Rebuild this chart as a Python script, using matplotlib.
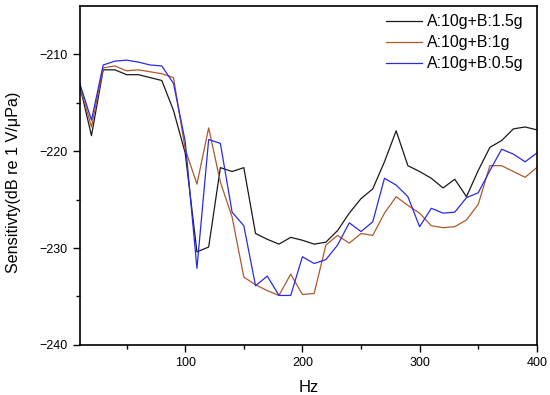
import matplotlib.pyplot as plt
import numpy as np
from matplotlib.ticker import MultipleLocator

plt.rcParams['font.family'] = ['Liberation Sans', 'DejaVu Sans']

# frequency axis (Hz)
freq = np.arange(10, 401, 10)

# sensitivity readings, dB re 1 V/uPa
sens_15 = [-213.2, -218.4, -211.6, -211.6, -212.1, -212.1, -212.4, -212.7, -215.8, -220.2,
           -230.4, -229.9, -221.7, -222.1, -221.7, -228.5, -229.1, -229.6, -228.9, -229.2,
           -229.6, -229.4, -228.2, -226.4, -224.9, -223.9, -221.1, -217.9, -221.5, -222.1,
           -222.8, -223.8, -222.9, -224.7, -222.0, -219.6, -218.9, -217.7, -217.5, -217.8]
sens_10 = [-213.2, -217.5, -211.4, -211.2, -211.7, -211.6, -211.8, -212.0, -212.4, -219.8,
           -223.4, -217.6, -223.2, -226.8, -233.0, -233.8, -234.4, -234.9, -232.7, -234.8,
           -234.7, -229.7, -228.7, -229.5, -228.5, -228.7, -226.4, -224.7, -225.6, -226.4,
           -227.7, -227.9, -227.8, -227.1, -225.5, -221.5, -221.5, -222.1, -222.7, -221.7]
sens_05 = [-213.0, -216.8, -211.1, -210.7, -210.6, -210.8, -211.1, -211.2, -213.0, -219.0,
           -232.1, -218.8, -219.2, -226.3, -227.7, -233.9, -232.9, -234.9, -234.9, -230.9,
           -231.6, -231.2, -229.7, -227.4, -228.3, -227.3, -222.8, -223.5, -224.7, -227.8,
           -225.9, -226.4, -226.3, -224.8, -224.3, -222.0, -219.8, -220.3, -221.1, -220.2]

labels = ['A:10g+B:1.5g', 'A:10g+B:1g', 'A:10g+B:0.5g']
colors = ['#1a1a1a', '#b0582a', '#2a2ae6']

fig = plt.figure(figsize=(5.5, 3.95), dpi=100)
ax = fig.add_axes([0.145, 0.127, 0.831, 0.858])

for y, lab, c in zip([sens_15, sens_10, sens_05], labels, colors):
    ax.plot(freq, y, color=c, linewidth=0.9, label=lab)

ax.set_xlim(10, 400)
ax.set_ylim(-240, -205)
ax.xaxis.set_major_locator(MultipleLocator(100))
ax.xaxis.set_minor_locator(MultipleLocator(50))
ax.yaxis.set_major_locator(MultipleLocator(10))
ax.yaxis.set_minor_locator(MultipleLocator(5))
ax.tick_params(which='major', direction='out', length=5, width=1, labelsize=9)
ax.tick_params(which='minor', direction='out', length=3, width=1)
# no tick on the top edge
ax.yaxis.get_minor_ticks()[-1].tick1line.set_visible(False)
for s in ax.spines.values():
    s.set_linewidth(1.2)

ax.set_xlabel('Hz', fontsize=12, labelpad=8)
ax.set_ylabel('Sensitivty(dB re 1 V/\u03bcPa)', fontsize=11.6)
ax.yaxis.set_label_coords(-0.128, 0.479)

ax.legend(loc='upper right', bbox_to_anchor=(0.989, 1.0), frameon=False,
          fontsize=11.4, handlelength=2.3, handletextpad=0.3,
          labelspacing=0.38, borderaxespad=0.12)

plt.savefig('out.png', dpi=100)
